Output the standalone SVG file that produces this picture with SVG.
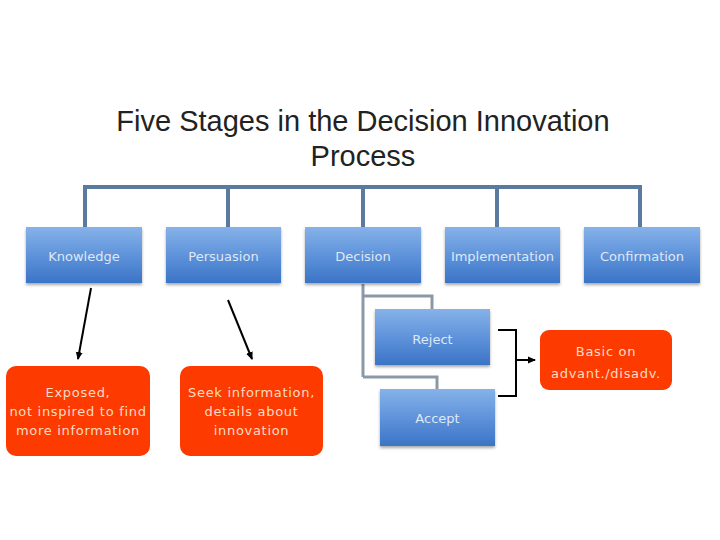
<svg xmlns="http://www.w3.org/2000/svg" width="720" height="540" viewBox="0 0 720 540">
<defs>
<linearGradient id="blue" x1="0" y1="0" x2="0" y2="1">
<stop offset="0" stop-color="#86b2e8"/>
<stop offset="0.5" stop-color="#5f93db"/>
<stop offset="1" stop-color="#3b74c6"/>
</linearGradient>
<filter id="sh" x="-10%" y="-10%" width="120%" height="130%">
<feGaussianBlur in="SourceAlpha" stdDeviation="1.5"/>
<feOffset dy="2"/>
<feComponentTransfer><feFuncA type="linear" slope="0.35"/></feComponentTransfer>
<feMerge><feMergeNode/><feMergeNode in="SourceGraphic"/></feMerge>
</filter>
<marker id="ah" markerWidth="8" markerHeight="8" refX="7" refY="4" orient="auto" markerUnits="userSpaceOnUse">
<path d="M0,0.5 L8,4 L0,7.5 Z" fill="#000"/>
</marker>
</defs>
<style>
.title{font-family:"Liberation Sans",Arial,sans-serif;font-size:29px;fill:#222;text-anchor:middle}
.stage rect{fill:url(#blue);filter:url(#sh)}
.stage text{font-family:"DejaVu Sans",Verdana,sans-serif;font-size:13px;fill:#dfe8f4;text-anchor:middle}
.note rect{fill:#fd3a00}
.note text{font-family:"DejaVu Sans",Verdana,sans-serif;font-size:13px;letter-spacing:0.7px;fill:#ffdcc4;text-anchor:middle}
.bus{stroke:#5a7aa0;stroke-width:4;fill:none}
.sub{stroke:#8b99a6;stroke-width:3;fill:none}
.arr{stroke:#000;stroke-width:2;fill:none}
</style>
<rect width="720" height="540" fill="#fff"/>
<text class="title" x="363" y="131">Five Stages in the Decision Innovation</text>
<text class="title" x="363" y="166">Process</text>
<g id="connectors">
<path class="bus" d="M85,228 V187 H640 V228 M228,187 V228 M363,187 V228 M497,187 V228"/>
<path class="sub" d="M363,284 V377 M363,296 H432 V309 M363,377 H437 V389"/>
<line class="arr" x1="91" y1="288" x2="78" y2="359" marker-end="url(#ah)"/>
<line class="arr" x1="228" y1="300" x2="252" y2="359" marker-end="url(#ah)"/>
<path class="arr" d="M498,330 H516 V396 H498" stroke-width="1.5"/>
<line class="arr" x1="516" y1="360" x2="535" y2="360" marker-end="url(#ah)"/>
</g>
<g id="knowledge" class="stage"><rect x="26" y="227" width="116" height="56"/><text x="84" y="261">Knowledge</text></g>
<g id="persuasion" class="stage"><rect x="166" y="227" width="115" height="56"/><text x="223.5" y="261">Persuasion</text></g>
<g id="decision" class="stage"><rect x="305" y="227" width="116" height="56"/><text x="363" y="261">Decision</text></g>
<g id="implementation" class="stage"><rect x="445" y="227" width="115" height="56"/><text x="502.5" y="261">Implementation</text></g>
<g id="confirmation" class="stage"><rect x="584" y="227" width="116" height="56"/><text x="642" y="261">Confirmation</text></g>
<g id="reject" class="stage"><rect x="375" y="309" width="115" height="56"/><text x="432.5" y="344">Reject</text></g>
<g id="accept" class="stage"><rect x="380" y="389" width="115" height="57"/><text x="437.5" y="423">Accept</text></g>
<g id="exposed" class="note"><rect x="6" y="366" width="144" height="90" rx="10"/><text x="78" y="397">Exposed,</text><text x="78" y="416">not inspired to find</text><text x="78" y="435">more information</text></g>
<g id="seek" class="note"><rect x="180" y="366" width="143" height="90" rx="10"/><text x="251.5" y="397">Seek information,</text><text x="251.5" y="416">details about</text><text x="251.5" y="435">innovation</text></g>
<g id="basic" class="note"><rect x="540" y="330" width="132" height="60" rx="9"/><text x="606" y="356">Basic on</text><text x="606" y="378">advant./disadv.</text></g>
</svg>
